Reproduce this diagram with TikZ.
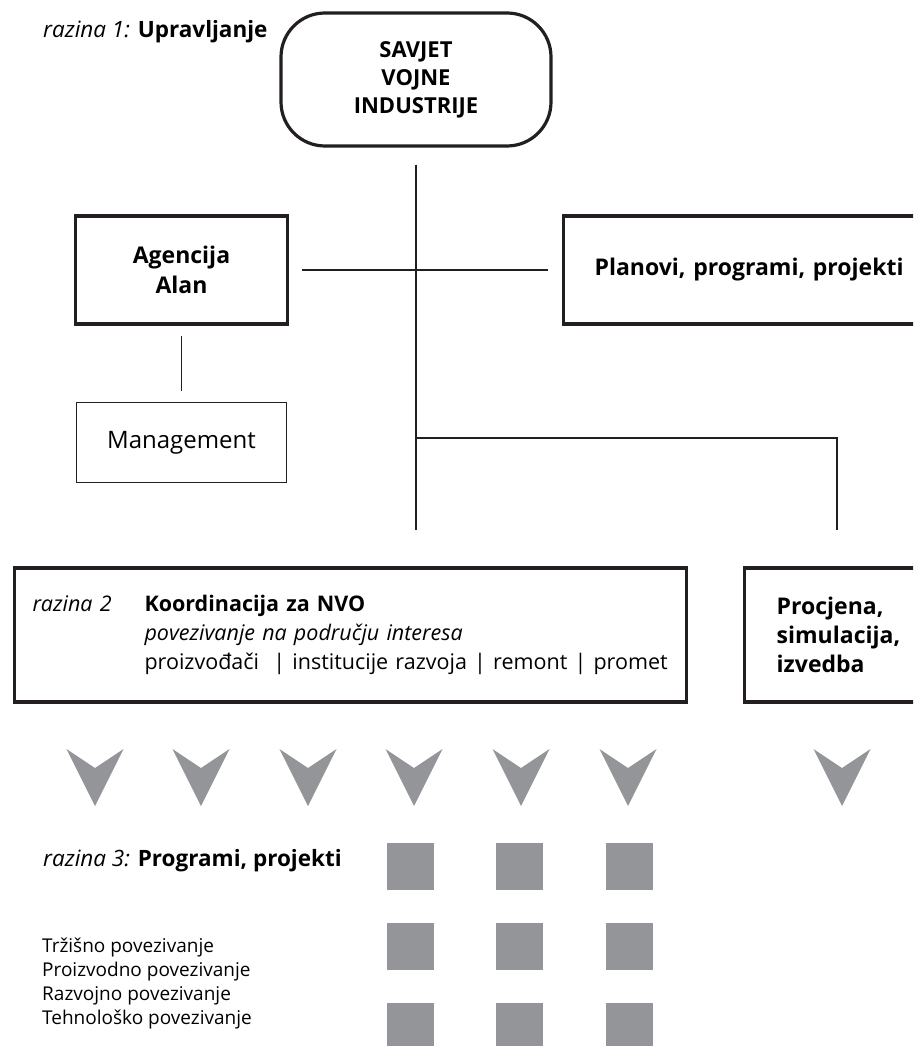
\documentclass[tikz,border=0pt]{standalone}
\usepackage{fontspec}
\setmainfont{Open Sans}
\usetikzlibrary{positioning}
\definecolor{InkBlack}{RGB}{35,31,32}
\definecolor{MarkGray}{RGB}{147,149,152}
\tikzset{
  unitbox/.style={draw=InkBlack,line width=3.2pt,align=center,inner sep=0pt,
    font=\fontsize{23}{30}\selectfont\bfseries},
  councilbox/.style={unitbox,rounded corners=44pt,minimum width=270pt,
    minimum height=133pt,font=\fontsize{22}{28}\selectfont\bfseries},
  levelbox/.style={draw=InkBlack,line width=3.2pt,align=left,inner ysep=0pt,
    minimum height=134pt,font=\fontsize{23}{29}\selectfont},
  subbox/.style={draw=InkBlack,line width=1.8pt,inner sep=0pt,
    minimum width=210pt,minimum height=80pt,font=\fontsize{24}{28}\selectfont},
  orgline/.style={draw=InkBlack,line width=1.8pt},
  leveltext/.style={anchor=base west,inner sep=0pt,
    font=\fontsize{22.5}{26}\selectfont},
  marksquare/.style={fill=MarkGray,minimum size=47pt,inner sep=0pt},
  downmark/.style={fill=MarkGray},
}
\begin{document}
\begin{tikzpicture}[x=1pt,y=-1pt]
  \clip (0,0) rectangle (913,1046);
  \node[leveltext] (level1) at (43,38) {\textit{razina 1:} \textbf{Upravljanje}};
  \node[councilbox] (savjet) at (416,79.5) {SAVJET\\VOJNE\\INDUSTRIJE};
  \node[unitbox,minimum width=212pt,minimum height=108pt] (agencija) at (181.5,270) {Agencija\\Alan};
  \node[unitbox,anchor=west,align=left,text width=360pt,inner xsep=31pt,
        minimum height=108pt] (planovi) at (562,270) {Planovi, programi, projekti};
  \node[subbox,below=76pt of agencija] (management) {Management};
  \node[levelbox,text width=636pt,inner xsep=18pt,font=\fontsize{21.5}{29}\selectfont]
    (nvo) at (350.5,635)
    {\makebox[112pt][l]{\itshape razina 2}\textbf{Koordinacija za NVO}\\
     \hspace*{112pt}\textit{povezivanje na području interesa}\\
     \hspace*{112pt}proizvođači\ \ | institucije razvoja | remont | promet};
  \node[levelbox,text width=120pt,inner xsep=32pt,font=\fontsize{23}{29}\selectfont\bfseries,
        right=55pt of nvo] (procjena) {Procjena,\\simulacija,\\izvedba};
  \coordinate (branch) at (416,438);
  \draw[orgline] ([yshift=-17pt]savjet.south) -- ([yshift=36pt]savjet.south |- nvo.north);
  \draw[orgline] ([xshift=13pt]agencija.east) -- ([xshift=-14pt]planovi.west);
  \draw[orgline] ([yshift=-10pt]agencija.south) -- ([yshift=11pt]management.north);
  \draw[orgline] (branch) -| ([yshift=36pt]procjena.north);
  \foreach \cx in {95,201,308,414,521,628,842}
    \fill[downmark] (\cx-28.5,749) -- (\cx,768) -- (\cx+28.5,749) -- (\cx,806) -- cycle;
  \node[leveltext] (level3) at (43,866) {\textit{razina 3:} \textbf{Programi, projekti}};
  \foreach \col/\cx in {1/410.5,2/519.5,3/629.5}
    \foreach \row/\cy in {1/866.5,2/946.5,3/1026.5}
      \node[marksquare] (sq-\row-\col) at (\cx,\cy) {};
  \node[leveltext,align=left,font=\fontsize{19}{24}\selectfont] (links) at (42,1024)
    {Tržišno povezivanje\\Proizvodno povezivanje\\Razvojno povezivanje\\Tehnološko povezivanje};
\end{tikzpicture}
\end{document}
